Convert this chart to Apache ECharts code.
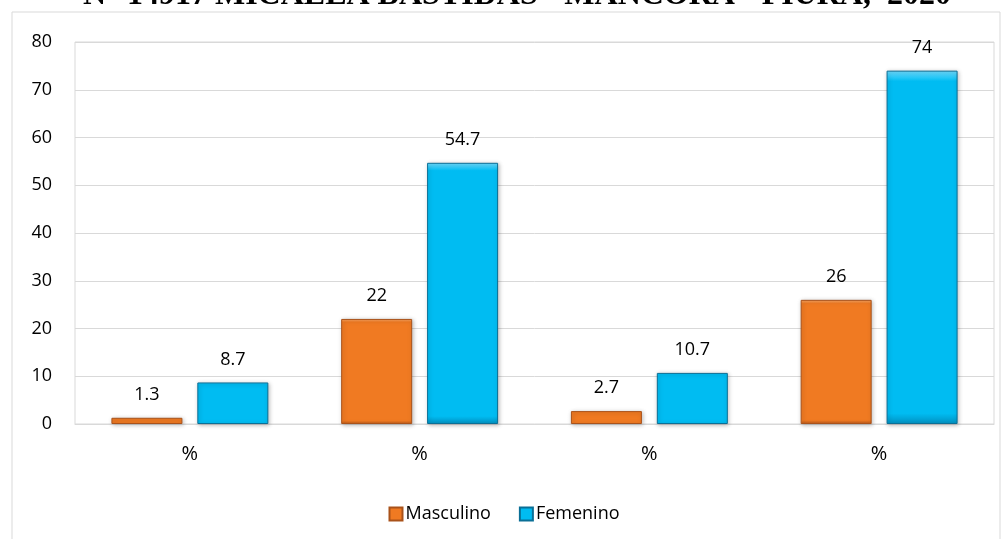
<!DOCTYPE html>
<html>
<head>
<meta charset="utf-8">
<script src="https://cdn.jsdelivr.net/npm/echarts@6/dist/echarts.min.js"></script>
<style>
  html, body { margin: 0; padding: 0; background: #fff; }
  #chart { width: 1008px; height: 539px; }
</style>
</head>
<body>
<div id="chart"></div>
<script>
// Category labels and series values
const categories = ['%', '%', '%', '%'];
const masculino = [1.3, 22, 2.7, 26];
const femenino = [8.7, 54.7, 10.7, 74];
const yTicks = { min: 0, max: 80, interval: 10 };
const titleText = 'N° 14917 MICAELA BASTIDAS - MANCORA - PIURA,  2020';

const font = '"Open Sans", "Noto Sans", sans-serif';

function bevel(light, mid, dark) {
  return new echarts.graphic.LinearGradient(0, 0, 0, 1, [
    { offset: 0, color: light },
    { offset: 0.03, color: mid },
    { offset: 0.97, color: mid },
    { offset: 1, color: dark }
  ]);
}

const chart = echarts.init(document.getElementById('chart'));
chart.setOption({
  animation: false,
  backgroundColor: '#fff',
  graphic: [
    {
      type: 'rect',
      shape: { x: 12, y: 12, width: 988, height: 560 },
      style: { fill: 'none', stroke: '#d9d9d9', lineWidth: 1 },
      z: 0
    },
    {
      type: 'text',
      x: 517,
      y: 12,
      style: {
        text: titleText,
        fill: '#000',
        font: 'bold 32px "Liberation Serif", "Times New Roman", serif',
        align: 'center',
        verticalAlign: 'bottom'
      },
      z: 10
    }
  ],
  grid: {
    left: 75, right: 14, top: 42, bottom: 115,
    show: true, borderColor: '#d9d9d9', borderWidth: 1
  },
  legend: {
    data: ['Masculino', 'Femenino'],
    left: 'center',
    top: 500,
    itemWidth: 13,
    itemHeight: 13,
    itemGap: 28,
    icon: 'rect',
    textStyle: { fontFamily: font, fontSize: 18, color: '#000', padding: [0, 0, 0, -2] }
  },
  xAxis: {
    type: 'category',
    data: categories,
    axisLine: { show: true, lineStyle: { color: '#d9d9d9' } },
    axisTick: { show: false },
    axisLabel: { fontFamily: font, fontSize: 20, color: '#000', margin: 20 }
  },
  yAxis: {
    type: 'value',
    min: yTicks.min, max: yTicks.max, interval: yTicks.interval,
    axisLine: { show: false },
    axisTick: { show: false },
    splitLine: { lineStyle: { color: '#d9d9d9', width: 1 } },
    axisLabel: { fontFamily: font, fontSize: 18, color: '#000', margin: 23 }
  },
  series: [
    {
      name: 'Masculino',
      type: 'bar',
      data: masculino,
      barWidth: 71,
      barGap: '21%',
      itemStyle: {
        color: bevel('#f9a868', '#f07a22', '#b8581a'),
        borderColor: '#a9521a',
        borderWidth: 1,
        shadowColor: 'rgba(0,0,0,0.25)',
        shadowBlur: 4,
        shadowOffsetX: 1,
        shadowOffsetY: 1
      },
      label: {
        show: true, position: 'top', distance: 14,
        fontFamily: font, fontSize: 18, color: '#000'
      }
    },
    {
      name: 'Femenino',
      type: 'bar',
      data: femenino,
      barWidth: 71,
      itemStyle: {
        color: bevel('#6fdcff', '#00bcf2', '#0090c0'),
        borderColor: '#0a6f96',
        borderWidth: 1,
        shadowColor: 'rgba(0,0,0,0.25)',
        shadowBlur: 4,
        shadowOffsetX: 1,
        shadowOffsetY: 1
      },
      label: {
        show: true, position: 'top', distance: 14,
        fontFamily: font, fontSize: 18, color: '#000'
      }
    }
  ]
});
</script>
</body>
</html>
